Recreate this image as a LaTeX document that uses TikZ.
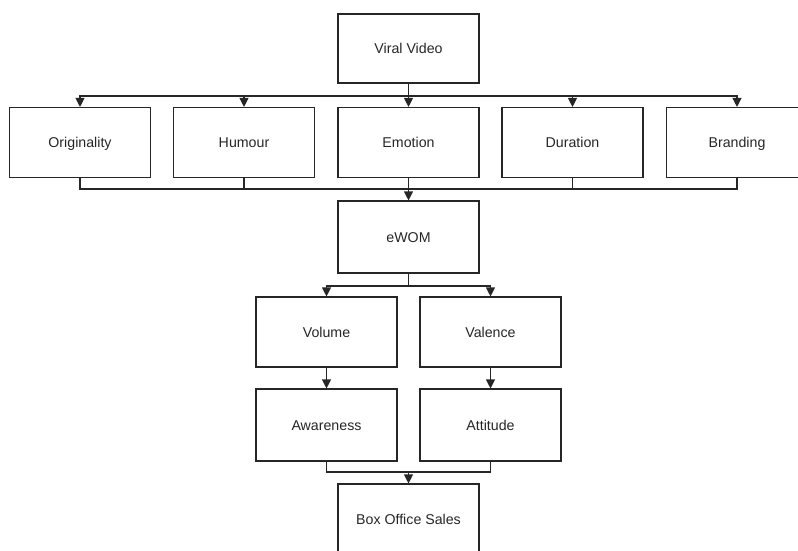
\documentclass[tikz,border=0pt]{standalone}
\usepackage{fontspec}
\setmainfont{Liberation Sans}
\usetikzlibrary{arrows.meta}
\tikzstyle{block} = [draw=black!85,line width=1.1pt,minimum width=141pt,minimum height=70pt,inner sep=0pt,text height=11pt,text depth=1pt,font=\fontsize{14.2}{17}\selectfont,text=black!85]
\tikzstyle{flow} = [draw=black!85,line width=1.1pt,-{Triangle[length=9pt,width=9pt]}]
\tikzstyle{mergeline} = [draw=black!85,line width=1.1pt]

\begin{document}
\begin{tikzpicture}[x=1pt,y=-1pt]
	\useasboundingbox (0,0) rectangle (798,551);
	\node[block,minimum height=69pt] (video) at (408.5, 48.5) {Viral Video};

	\node[block] (orig) at (80, 142.5) {Originality};
	\node[block] (humour) at (244, 142.5) {Humour};
	\node[block] (emotion) at (408.5, 142.5) {Emotion};
	\node[block] (duration) at (572.5, 142.5) {Duration};
	\node[block] (brand) at (737, 142.5) {Branding};

	\node[block,minimum height=72pt] (ewom) at (408.5, 237) {eWOM};

	\node[block] (volume) at (326.5, 332) {Volume};
	\node[block] (valence) at (490.5, 332) {Valence};

	\node[block,minimum height=72pt] (aware) at (326.5, 425) {Awareness};
	\node[block,minimum height=72pt] (attitude) at (490.5, 425) {Attitude};

	\node[block] (sales) at (408.5, 519) {Box Office Sales};

	\coordinate (split1) at (408.5, 96);
	\coordinate (merge1) at (408.5, 189);
	\coordinate (split2) at (408.5, 286);
	\coordinate (merge2) at (408.5, 472);

	\foreach \dest in {orig, humour, emotion, duration, brand}
	\path[flow] (video.south) -- (split1) -| (\dest.north);
	\foreach \source in {orig, humour, duration, brand}
	\path[mergeline] (\source.south) |- (merge1);
	\path[flow] (emotion.south) -- (ewom.north);

	\foreach \dest in {volume, valence}
	\path[flow] (ewom.south) -- (split2) -| (\dest.north);
	\foreach \source/ \dest in {volume/aware, valence/attitude}
	\path[flow] (\source) -- (\dest);

	\path[mergeline] (aware.south) |- (merge2) -| (attitude.south);
	\path[flow] (merge2) -- (sales.north);
\end{tikzpicture}
\end{document}
